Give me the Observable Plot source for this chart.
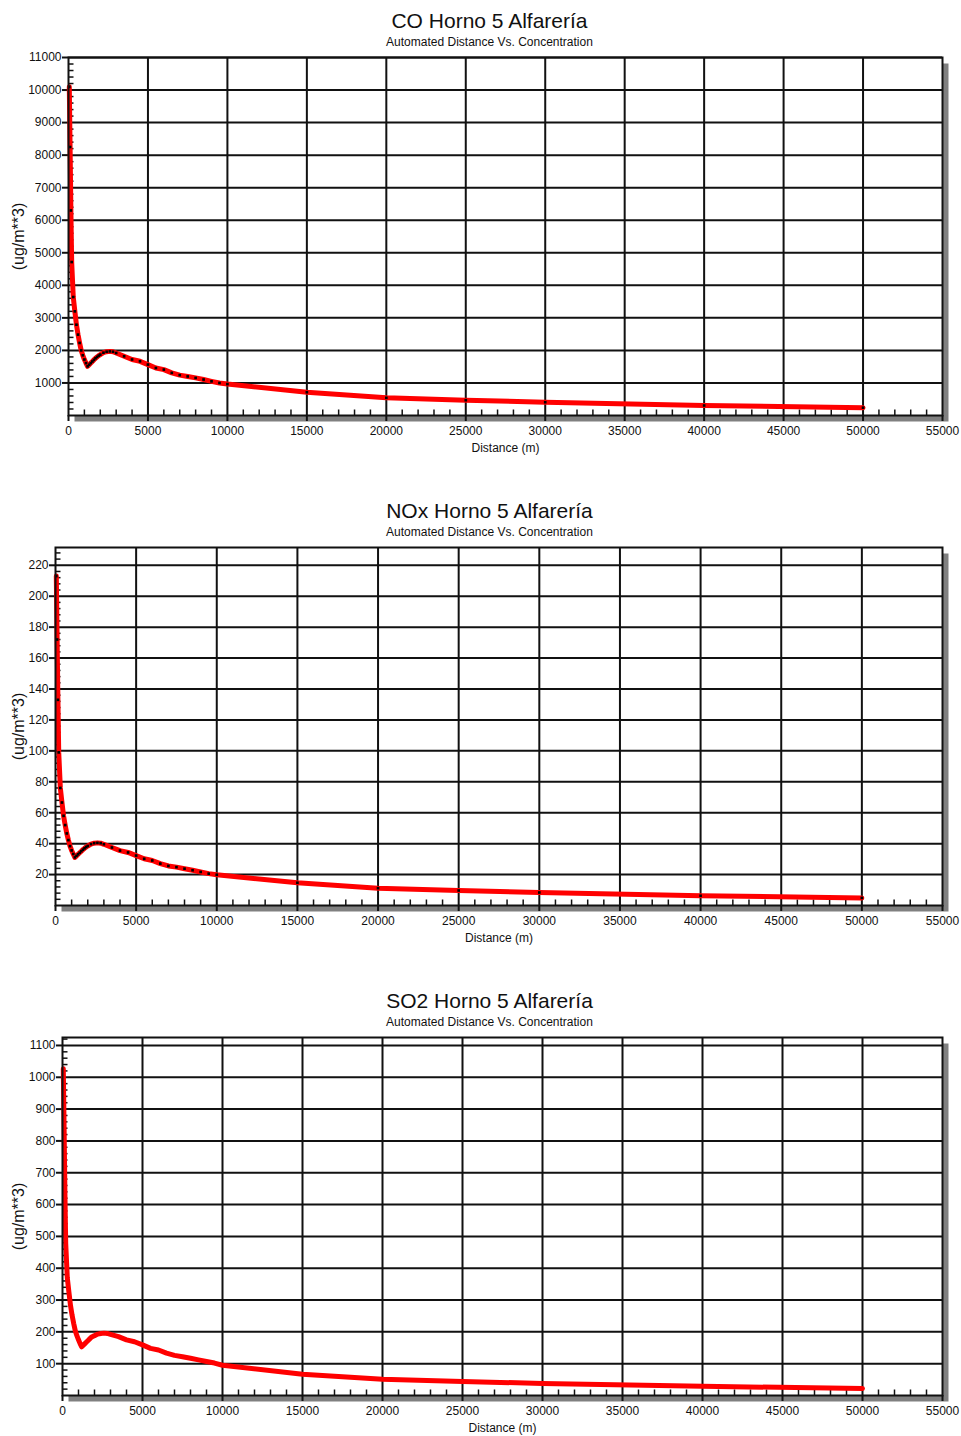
<!DOCTYPE html>
<html><head><meta charset="utf-8">
<script src="https://cdn.jsdelivr.net/npm/d3@7"></script>
<script src="https://cdn.jsdelivr.net/npm/@observablehq/plot@0.6"></script>
<style>
body{margin:0;background:#fff;}
svg{display:block;}
</style></head><body><div id="c"></div>
<script>
// Shared receptor distances (m)
const distances = [50,100,150,200,300,400,500,600,700,800,900,1000,1100,1200,1300,1400,1500,1600,1700,1800,1900,2000,2200,2400,2600,2800,3000,3500,4000,4500,5000,5500,6000,6500,7000,7500,8000,8500,9000,9500,10000,15000,20000,25000,30000,40000,50000];
// Concentrations (ug/m**3)
const coValues = [10100,8250,6300,4715,3640,3200,2790,2485,2230,2000,1850,1720,1610,1510,1560,1610,1660,1710,1760,1800,1840,1870,1930,1960,1970,1960,1920,1820,1720,1665,1565,1460,1410,1310,1240,1200,1155,1105,1050,1000,965,715,543,470,408,307,240];
const noxValues = [213,172,133,99,76,66.6,58,52,46.6,42.3,38.4,35.6,33.3,31.1,32.1,33.1,34.1,35.1,36.1,37,37.8,38.5,39.7,40.3,40.5,40.3,39.6,37.5,35.5,34.3,32.3,30.2,29.1,27.1,25.6,24.8,23.8,22.8,21.7,20.6,19.9,14.7,11.2,9.7,8.4,6.3,4.9];
const so2Values = [1027,840,640,479,370,325,283,252,226,203,188,175,163,153,158,163,168,173,178,183,186,188,193,195,196,195,192,185,175,169,159,148,143,133,126,122,117,112,107,102,95,67,51,44,38,29,22];

const titles = ["CO Horno 5 Alfarería", "NOx Horno 5 Alfarería", "SO2 Horno 5 Alfarería"];
const subtitle = "Automated Distance Vs. Concentration";
const xLabel = "Distance (m)";
const yLabel = "(ug/m**3)";

const xTicks = [0,5000,10000,15000,20000,25000,30000,35000,40000,45000,50000,55000];
const coTicks = [1000,2000,3000,4000,5000,6000,7000,8000,9000,10000,11000];
const noxTicks = [20,40,60,80,100,120,140,160,180,200,220];
const so2Ticks = [100,200,300,400,500,600,700,800,900,1000,1100];

const tickUp = {draw(ctx){ctx.moveTo(0,0); ctx.lineTo(0,-6);}};
const tickRight = {draw(ctx){ctx.moveTo(0,0); ctx.lineTo(5,0);}};

function chart({values, title, yTicks, yMax, minorStep, majorStep, marginLeft, height, marginBottom, dots}) {
  const data = distances.map((d, i) => ({d, v: values[i]}));
  const xMinor = d3.range(1000, 55000, 1000).filter(v => v % 5000 !== 0);
  const yMinor = d3.range(minorStep, yMax, minorStep).filter(v => Math.abs(v / majorStep - Math.round(v / majorStep)) > 1e-6);
  const frameCx = (marginLeft + 942) / 2;
  return Plot.plot({
    width: 961, height,
    marginLeft, marginRight: 19, marginTop: 57, marginBottom,
    style: {fontFamily: "'Liberation Sans', Arial, sans-serif", fontSize: "12px", color: "#111", background: "white", overflow: "visible"},
    x: {domain: [0, 55000]},
    y: {domain: [0, yMax]},
    marks: [
      Plot.frame({fill: "#808080", stroke: null, dx: 6, dy: 6}),
      Plot.frame({fill: "white", stroke: null}),
      Plot.gridX(xTicks.slice(1, -1), {stroke: "#111", strokeOpacity: 1, strokeWidth: 2}),
      Plot.gridY(yTicks, {stroke: "#111", strokeOpacity: 1, strokeWidth: 2}),
      Plot.dot(xMinor, {x: d => d, frameAnchor: "bottom", symbol: tickUp, stroke: "#111", fill: "none", strokeWidth: 1.5}),
      Plot.dot(yMinor, {y: d => d, frameAnchor: "left", symbol: tickRight, stroke: "#111", fill: "none", strokeWidth: 1.5}),
      Plot.axisX(xTicks, {tickSize: 6, tickPadding: 5, tickFormat: d => String(d), label: null, strokeWidth: 2}),
      Plot.axisY(yTicks, {tickSize: 6, tickPadding: 1, tickFormat: d => String(d), label: null, strokeWidth: 2}),
      Plot.line(data, {x: "d", y: "v", stroke: "#ff0000", strokeWidth: 5, strokeLinejoin: "round"}),
      dots ? Plot.dot(data, {x: "d", y: "v", symbol: "square", r: 1.5, fill: "#000"}) : null,
      Plot.frame({stroke: "#111", strokeWidth: 2}),
      Plot.text([title], {text: d => d, frameAnchor: "top", dx: 489 - frameCx, dy: -29.7, lineAnchor: "bottom", fontSize: 21, fill: "#111"}),
      Plot.text([subtitle], {text: d => d, frameAnchor: "top", dx: 489 - frameCx, dy: -11.3, lineAnchor: "bottom", fontSize: 12, fill: "#111"}),
      Plot.text([xLabel], {text: d => d, frameAnchor: "bottom", dy: 36.5, lineAnchor: "bottom", fontSize: 12, fill: "#111"}),
      Plot.text([yLabel], {text: d => d, frameAnchor: "left", textAnchor: "middle", dx: 18 - marginLeft, rotate: -90, lineAnchor: "middle", fontSize: 16, fill: "#111"})
    ]
  });
}

const c = document.getElementById("c");
c.appendChild(chart({values: coValues, title: titles[0], yTicks: coTicks, yMax: 11000, minorStep: 200, majorStep: 1000, marginLeft: 68, height: 490, marginBottom: 75, dots: true}));
c.appendChild(chart({values: noxValues, title: titles[1], yTicks: noxTicks, yMax: 231.5, minorStep: 4, majorStep: 20, marginLeft: 55, height: 490, marginBottom: 75, dots: true}));
c.appendChild(chart({values: so2Values, title: titles[2], yTicks: so2Ticks, yMax: 1125, minorStep: 20, majorStep: 100, marginLeft: 62, height: 456, marginBottom: 41, dots: false}));
</script>
</body></html>
